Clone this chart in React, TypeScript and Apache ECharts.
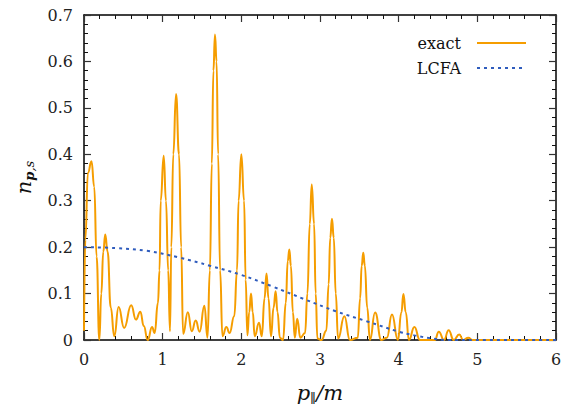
import React, { useEffect, useRef } from 'react';
import * as echarts from 'echarts';

const exactX = [
  0.0, 0.017, 0.05, 0.095, 0.13, 0.16, 0.195, 0.22, 0.245, 0.27, 0.3, 0.34, 0.385,
  0.44, 0.51, 0.6, 0.66, 0.716, 0.76, 0.81, 0.865, 0.898, 0.94, 0.96, 0.975, 1.013,
  1.042, 1.07, 1.093, 1.11, 1.135, 1.17, 1.208, 1.235, 1.26, 1.32, 1.37, 1.42,
  1.47, 1.53, 1.57, 1.6, 1.625, 1.645, 1.665, 1.685, 1.705, 1.73, 1.76, 1.81, 1.85, 1.91,
  1.945, 1.965, 2.0, 2.035, 2.055, 2.077, 2.1, 2.123, 2.145, 2.17, 2.225, 2.26, 2.295, 2.32, 2.345, 2.377,
  2.41, 2.436, 2.46, 2.49, 2.53, 2.565, 2.59, 2.61, 2.63, 2.655, 2.68, 2.71, 2.75, 2.81, 2.84, 2.87, 2.895,
  2.925, 2.945, 2.967, 3.02, 3.08, 3.11, 3.13, 3.152, 3.175, 3.2, 3.23, 3.31, 3.38, 3.48, 3.51, 3.53,
  3.55, 3.57, 3.6, 3.635, 3.7, 3.78, 3.85, 3.915, 3.99, 4.035, 4.06, 4.09, 4.13, 4.2, 4.27,
  4.46, 4.51, 4.576, 4.635, 4.7, 4.77, 4.82, 4.885, 4.94, 6.0,
];
const exactY = [
  0.02, 0.216, 0.36, 0.385, 0.33, 0.18, 0.0, 0.1, 0.19, 0.227, 0.19, 0.07, 0.008,
  0.071, 0.026, 0.075, 0.044, 0.061, 0.03, 0.0, 0.028, 0.015, 0.08, 0.15, 0.3, 0.397,
  0.3, 0.15, 0.019, 0.2, 0.4, 0.53, 0.4, 0.2, 0.013, 0.06, 0.019, 0.042,
  0.018, 0.074, 0.005, 0.15, 0.38, 0.58, 0.658, 0.6, 0.4, 0.15, 0.008, 0.028, 0.015, 0.051,
  0.15, 0.3, 0.4, 0.3, 0.13, 0.01, 0.06, 0.1, 0.06, 0.008, 0.037, 0.008, 0.09, 0.143, 0.09, 0.008,
  0.07, 0.105, 0.06, 0.005, 0.0, 0.08, 0.17, 0.195, 0.16, 0.06, 0.005, 0.046, 0.005, 0.015, 0.1, 0.25, 0.335,
  0.25, 0.1, 0.003, 0.0, 0.02, 0.12, 0.22, 0.261, 0.22, 0.1, 0.003, 0.051, 0.0, 0.005, 0.09, 0.16,
  0.188, 0.16, 0.07, 0.0, 0.059, 0.0, 0.005, 0.055, 0.0, 0.06, 0.099, 0.06, 0.0, 0.028, 0.0,
  0.0, 0.018, 0.0, 0.021, 0.0, 0.012, 0.0, 0.005, 0.0, 0.0,
];

const lcfaX = [0, 0.4, 0.8, 1.2, 1.6, 2.0, 2.4, 2.8, 3.2, 3.6, 4.0, 4.2, 4.4, 4.6, 5.0, 6.0];
const lcfaY = [0.2, 0.198, 0.192, 0.178, 0.16, 0.14, 0.115, 0.088, 0.062, 0.04, 0.018, 0.01, 0.004, 0.0, 0.0, 0.0];

const xTicks = [0, 1, 2, 3, 4, 5, 6];
const yTicks = [0, 0.1, 0.2, 0.3, 0.4, 0.5, 0.6, 0.7];

const seriesNames = ['exact', 'LCFA'];
const FONT = 'DejaVu Serif';

export default function App() {
  const ref = useRef<HTMLDivElement>(null);
  useEffect(() => {
    document.body.style.margin = '0';
    const chart = echarts.init(ref.current!, null, { renderer: 'svg' });
    const exactData = exactX.map((x, i) => [x, exactY[i]]);
    const lcfaData = lcfaX.map((x, i) => [x, lcfaY[i]]);
    const xMin = xTicks[0];
    const xMax = xTicks[xTicks.length - 1];
    const xInt = xTicks[1] - xTicks[0];
    const yMin = yTicks[0];
    const yMax = yTicks[yTicks.length - 1];
    const yInt = 0.1;
    const axisLine = { show: true, onZero: false, lineStyle: { color: '#000', width: 1.5 } };
    const tick = { show: true, inside: true, length: 7, lineStyle: { color: '#333', width: 1.2 } };
    const minor = { show: true, splitNumber: 5, length: 4, lineStyle: { color: '#111', width: 1 } };
    const label = { fontFamily: FONT, fontSize: 16, color: '#222' };
    chart.setOption({
      animation: false,
      textStyle: { fontFamily: FONT },
      grid: { left: 84, right: 9, top: 15, bottom: 72, containLabel: false },
      legend: {
        orient: 'vertical',
        right: 33,
        top: 30,
        align: 'right',
        itemWidth: 49,
        itemHeight: 14,
        itemGap: 9,
        data: seriesNames,
        itemStyle: { opacity: 0 },
        textStyle: { fontFamily: FONT, fontSize: 16, color: '#111', width: 60, align: 'right', padding: [0, 11, 0, 0] },
      },
      xAxis: [
        {
          type: 'value', min: xMin, max: xMax, interval: xInt, position: 'bottom',
          axisLine, axisTick: tick, minorTick: minor, splitLine: { show: false },
          axisLabel: { ...label, margin: 11 },
          name: '{i|p}{sub|∥}{i|/m}',
          nameLocation: 'middle',
          nameGap: 40,
          nameTextStyle: {
            rich: {
              i: { fontFamily: FONT, fontStyle: 'italic', fontSize: 21, color: '#111', lineHeight: 26 },
              sub: { fontFamily: FONT, fontSize: 13, color: '#111', lineHeight: 26, padding: [10, 0, 0, 0] },
            },
          },
        },
        {
          type: 'value', min: xMin, max: xMax, interval: xInt, position: 'top',
          axisLine, axisTick: tick, minorTick: minor, splitLine: { show: false },
          axisLabel: { show: false },
        },
      ],
      yAxis: [
        {
          type: 'value', min: yMin, max: yMax, interval: yInt, position: 'left',
          axisLine, axisTick: tick, minorTick: minor, splitLine: { show: false },
          axisLabel: { ...label, margin: 11 },
          name: '{i|n}{b|p}{sub|,s}',
          nameLocation: 'middle',
          nameRotate: 90,
          nameGap: 47,
          nameTextStyle: {
            rich: {
              i: { fontFamily: FONT, fontStyle: 'italic', fontSize: 21, color: '#111', lineHeight: 26 },
              b: { fontFamily: FONT, fontStyle: 'italic', fontWeight: 'bold', fontSize: 13, color: '#111', lineHeight: 26, padding: [10, 0, 0, 0] },
              sub: { fontFamily: FONT, fontStyle: 'italic', fontSize: 13, color: '#111', lineHeight: 26, padding: [10, 0, 0, 0] },
            },
          },
        },
        {
          type: 'value', min: yMin, max: yMax, interval: yInt, position: 'right',
          axisLine, axisTick: tick, minorTick: minor, splitLine: { show: false },
          axisLabel: { show: false },
        },
      ],
      series: [
        {
          name: seriesNames[0],
          type: 'line',
          xAxisIndex: 0,
          yAxisIndex: 0,
          data: exactData,
          smooth: 0.5,
          smoothMonotone: 'x',
          symbol: 'none',
          lineStyle: { color: '#f59d00', width: 2 },
          itemStyle: { color: '#f59d00' },
        },
        {
          name: seriesNames[1],
          type: 'line',
          xAxisIndex: 1,
          yAxisIndex: 1,
          data: lcfaData,
          smooth: 0.4,
          symbol: 'none',
          lineStyle: { color: '#2f5cbd', width: 2, type: [3, 4] },
          itemStyle: { color: '#2f5cbd' },
        },
      ],
    });
    return () => chart.dispose();
  }, []);
  return <div ref={ref} style={{ width: 565, height: 412 }} />;
}
